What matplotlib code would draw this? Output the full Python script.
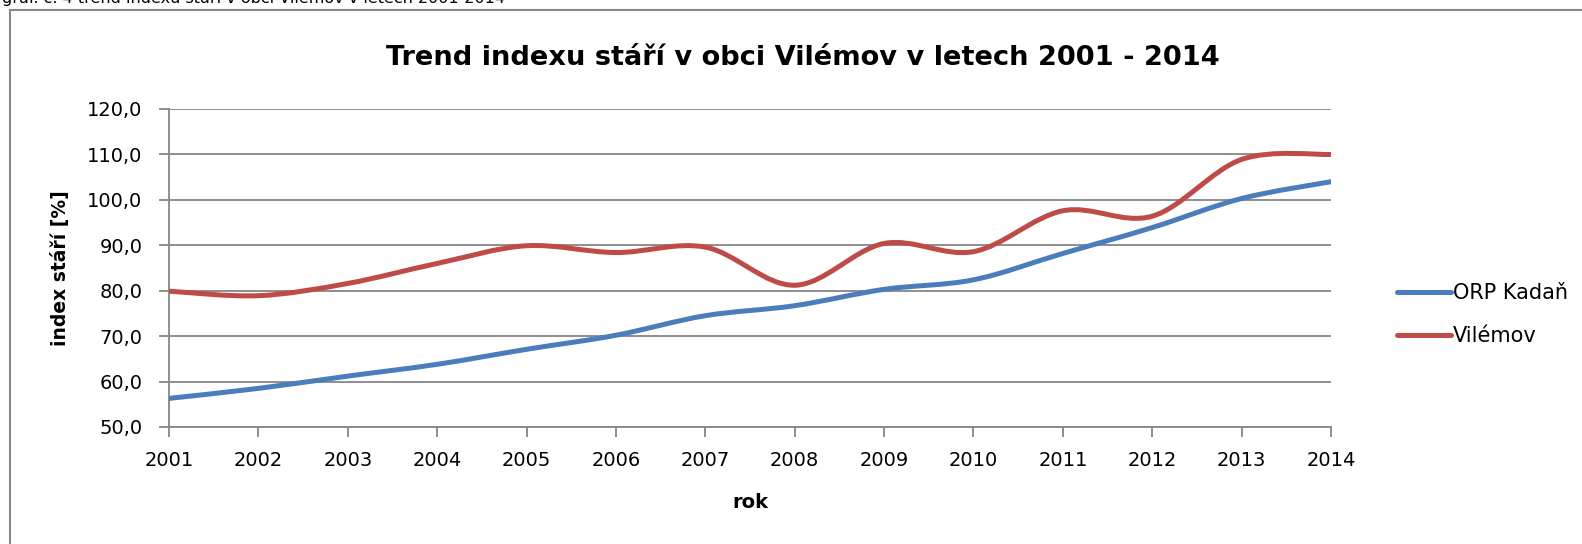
import matplotlib
matplotlib.use("Agg")
import matplotlib.pyplot as plt
from matplotlib.path import Path
from matplotlib.patches import PathPatch
from matplotlib.lines import Line2D

years = ['2001', '2002', '2003', '2004', '2005', '2006', '2007',
         '2008', '2009', '2010', '2011', '2012', '2013', '2014']
orp_kadan = [56.3, 58.5, 61.2, 63.8, 67.1, 70.2, 74.5,
             76.7, 80.3, 82.4, 88.2, 93.9, 100.3, 104.0]
vilemov = [79.9, 78.9, 81.6, 86.0, 89.9, 88.4, 89.6,
           81.2, 90.4, 88.6, 97.6, 96.4, 108.9, 110.0]

series = [('ORP Kadaň', orp_kadan, '#4A7EBB'),
          ('Vilémov', vilemov, '#BE4B48')]

grid_col = '#868686'
plt.rcParams['font.family'] = ['DejaVu Sans']

W, H = 1582, 544
fig = plt.figure(figsize=(W / 100, H / 100), dpi=100)
ax = fig.add_axes([169 / W, 1 - 427 / H, (1331 - 169) / W, (427 - 109) / H])


def smooth_path(xs, ys):
    # excel-like smoothed line: cubic bezier through every point
    n = len(xs)
    verts = [(xs[0], ys[0])]
    codes = [Path.MOVETO]
    for i in range(n - 1):
        x0, y0 = (xs[i - 1], ys[i - 1]) if i > 0 else (xs[i], ys[i])
        x1, y1 = xs[i], ys[i]
        x2, y2 = xs[i + 1], ys[i + 1]
        x3, y3 = (xs[i + 2], ys[i + 2]) if i + 2 < n else (x2, y2)
        verts += [(x1 + (x2 - x0) / 6, y1 + (y2 - y0) / 6),
                  (x2 - (x3 - x1) / 6, y2 - (y3 - y1) / 6),
                  (x2, y2)]
        codes += [Path.CURVE4] * 3
    return Path(verts, codes)


x = list(range(len(years)))
handles = []
for name, vals, col in series:
    ax.add_patch(PathPatch(smooth_path(x, vals), fill=False, edgecolor=col,
                           lw=3.6, capstyle='round', joinstyle='round', zorder=3))
    handles.append(Line2D([], [], color=col, lw=3.6, solid_capstyle='round', label=name))

ax.set_xlim(0, len(years) - 1)
ax.set_ylim(50, 120)
ax.set_xticks(x)
ax.set_xticklabels(years)
ax.set_yticks(range(50, 121, 10))
ax.set_yticklabels([f'{v},0' for v in range(50, 121, 10)])
ax.yaxis.grid(True, color=grid_col, lw=1.3)
ax.set_axisbelow(True)
for s in ['top', 'right']:
    ax.spines[s].set_visible(False)
for s in ['left', 'bottom']:
    ax.spines[s].set_color(grid_col)
    ax.spines[s].set_linewidth(1.3)
ax.tick_params(axis='both', direction='out', length=7, width=1.3, color=grid_col,
               labelsize=14)
ax.tick_params(axis='y', pad=12)
ax.tick_params(axis='x', pad=10)

ax.set_xlabel('rok', fontsize=14, fontweight='bold', labelpad=17)
ax.set_ylabel('index stáří [%]', fontsize=13.5, fontweight='bold', labelpad=12.5)

fig.text(803 / W, 1 - 65 / H, 'Trend indexu stáří v obci Vilémov v letech 2001 - 2014',
         ha='center', va='baseline', fontsize=19.6, fontweight='bold')

fig.text(2 / W, 1 - 3 / H, 'graf. č. 4 trend indexu stáří v obci Vilémov v letech 2001-2014',
         ha='left', va='baseline', fontsize=11.5)

# outer chart frame (cut off at right and bottom)
fig.add_artist(Line2D([9.5 / W, 9.5 / W], [1 - 10 / H, 0], color='#888888', lw=1.5))
fig.add_artist(Line2D([9.5 / W, 1], [1 - 10 / H, 1 - 10 / H], color='#888888', lw=1.5))

fig.legend(handles=handles, loc='center left', bbox_to_anchor=(1397 / W, 1 - 314.5 / H),
           frameon=False, fontsize=15, handlelength=2.6, handletextpad=0.1,
           labelspacing=1.1, borderpad=0, borderaxespad=0)

fig.savefig('out.png', dpi=100)
